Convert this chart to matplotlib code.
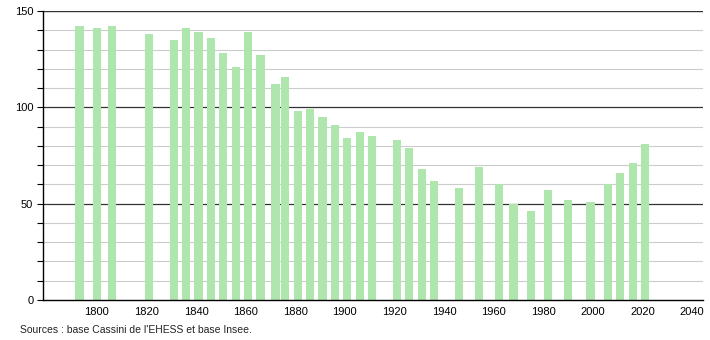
import numpy as np
import matplotlib
matplotlib.use("Agg")
import matplotlib.pyplot as plt

years = [1793, 1800, 1806, 1821, 1831, 1836, 1841, 1846, 1851, 1856, 1861, 1866,
         1872, 1876, 1881, 1886, 1891, 1896, 1901, 1906, 1911, 1921, 1926, 1931,
         1936, 1946, 1954, 1962, 1968, 1975, 1982, 1990, 1999, 2006, 2011, 2016, 2021]
population = [142, 141, 142, 138, 135, 141, 139, 136, 128, 121, 139, 127,
              112, 116, 98, 99, 95, 91, 84, 87, 85, 83, 79, 68,
              62, 58, 69, 60, 50, 46, 57, 52, 51, 60, 66, 71, 81]
xticks = list(range(1800, 2041, 20))
source = "Sources : base Cassini de l'EHESS et base Insee."

plt.rcParams['font.family'] = ['Liberation Sans', 'DejaVu Sans']

fig = plt.figure(figsize=(7.1, 3.4), dpi=100)
ax = fig.add_axes([0.0606, 0.1176, 0.93, 0.85])

# light minor lines, dark major ones
for v in range(10, 150, 10):
    if v % 50:
        ax.axhline(v, color='#cccccc', lw=0.8, zorder=0)
    else:
        ax.axhline(v, color='#333333', lw=0.9, zorder=0)
ax.axhline(150, color='#333333', lw=1.0, zorder=0)

ax.bar(years, population, width=3.3, color='#aee6ae', zorder=2)

ax.set_xlim(1778.3, 2044.5)
ax.set_ylim(0, 150)
ax.set_yticks(np.arange(0, 151, 50))
ax.set_yticks(np.arange(0, 151, 10), minor=True)
ax.set_xticks(xticks)
ax.tick_params(axis='y', which='both', length=4, width=0.8, labelsize=8, pad=3)
ax.tick_params(axis='x', length=0, labelsize=8, pad=5)

for s in ['top', 'right']:
    ax.spines[s].set_visible(False)
ax.spines['left'].set_color('black')
ax.spines['bottom'].set_color('black')
ax.spines['left'].set_linewidth(1.0)
ax.spines['bottom'].set_linewidth(1.0)

fig.text(0.028, 0.02, source, fontsize=7.5, color='#222222')

fig.savefig("out.png", dpi=100)
